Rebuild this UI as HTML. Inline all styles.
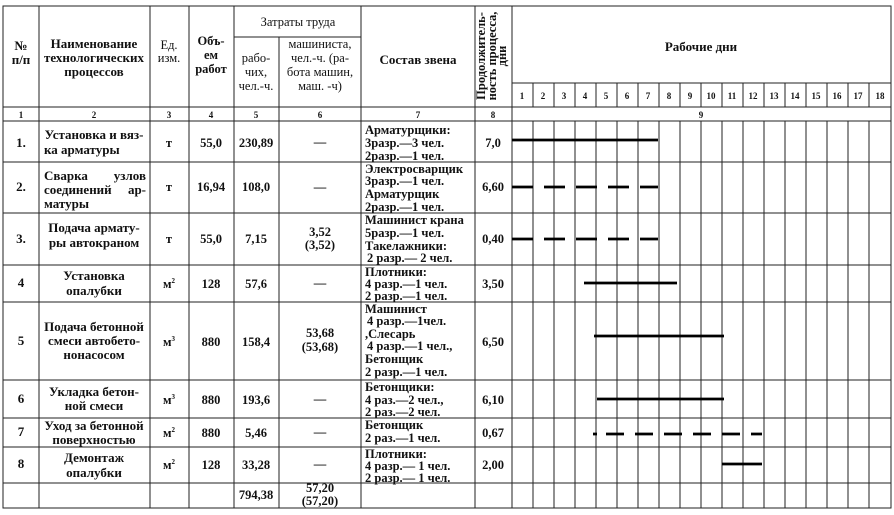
<!DOCTYPE html>
<html><head><meta charset="utf-8"><style>
html,body{margin:0;padding:0;background:#fff;}
svg{display:block;}
text{font-family:"Liberation Serif","DejaVu Serif",serif;font-weight:bold;font-size:12.5px;fill:#111;}
.s{font-size:9px;}
.c{text-anchor:middle;}
.n{font-size:13px;}
</style></head><body>
<svg width="894" height="515" viewBox="0 0 894 515" xmlns="http://www.w3.org/2000/svg">
<g stroke="#222" stroke-width="1" fill="none">
<rect x="3" y="6" width="888" height="502"/>
<line x1="3" y1="107" x2="891" y2="107"/>
<line x1="3" y1="121" x2="891" y2="121"/>
<line x1="3" y1="162" x2="891" y2="162"/>
<line x1="3" y1="213" x2="891" y2="213"/>
<line x1="3" y1="265" x2="891" y2="265"/>
<line x1="3" y1="302" x2="891" y2="302"/>
<line x1="3" y1="380" x2="891" y2="380"/>
<line x1="3" y1="418" x2="891" y2="418"/>
<line x1="3" y1="447" x2="891" y2="447"/>
<line x1="3" y1="483" x2="891" y2="483"/>
<line x1="39" y1="6" x2="39" y2="508"/>
<line x1="150" y1="6" x2="150" y2="508"/>
<line x1="189" y1="6" x2="189" y2="508"/>
<line x1="234" y1="6" x2="234" y2="508"/>
<line x1="279" y1="37" x2="279" y2="508"/>
<line x1="361" y1="6" x2="361" y2="508"/>
<line x1="475" y1="6" x2="475" y2="508"/>
<line x1="512" y1="6" x2="512" y2="508"/>
<line x1="234" y1="37" x2="361" y2="37"/>
<line x1="512" y1="83" x2="891" y2="83"/>
</g>
<g stroke="#222" stroke-width="1">
<line x1="533" y1="83" x2="533" y2="107"/><line x1="554" y1="83" x2="554" y2="107"/><line x1="575" y1="83" x2="575" y2="107"/><line x1="596" y1="83" x2="596" y2="107"/><line x1="617" y1="83" x2="617" y2="107"/><line x1="638" y1="83" x2="638" y2="107"/><line x1="659" y1="83" x2="659" y2="107"/><line x1="680" y1="83" x2="680" y2="107"/><line x1="701" y1="83" x2="701" y2="107"/><line x1="722" y1="83" x2="722" y2="107"/><line x1="743" y1="83" x2="743" y2="107"/><line x1="764" y1="83" x2="764" y2="107"/><line x1="785" y1="83" x2="785" y2="107"/><line x1="806" y1="83" x2="806" y2="107"/><line x1="827" y1="83" x2="827" y2="107"/><line x1="848" y1="83" x2="848" y2="107"/><line x1="869" y1="83" x2="869" y2="107"/>
<line x1="533" y1="121" x2="533" y2="508"/><line x1="554" y1="121" x2="554" y2="508"/><line x1="575" y1="121" x2="575" y2="508"/><line x1="596" y1="121" x2="596" y2="508"/><line x1="617" y1="121" x2="617" y2="508"/><line x1="638" y1="121" x2="638" y2="508"/><line x1="659" y1="121" x2="659" y2="508"/><line x1="680" y1="121" x2="680" y2="508"/><line x1="701" y1="121" x2="701" y2="508"/><line x1="722" y1="121" x2="722" y2="508"/><line x1="743" y1="121" x2="743" y2="508"/><line x1="764" y1="121" x2="764" y2="508"/><line x1="785" y1="121" x2="785" y2="508"/><line x1="806" y1="121" x2="806" y2="508"/><line x1="827" y1="121" x2="827" y2="508"/><line x1="848" y1="121" x2="848" y2="508"/><line x1="869" y1="121" x2="869" y2="508"/>
</g>
<g stroke="#000" stroke-width="2.8" fill="none">
<line x1="512" y1="140" x2="658" y2="140"/>
<line x1="512" y1="187" x2="658" y2="187" stroke-dasharray="21 11"/>
<line x1="512" y1="239" x2="658" y2="239" stroke-dasharray="21 11"/>
<line x1="584" y1="283" x2="677" y2="283"/>
<line x1="594" y1="336" x2="724" y2="336"/>
<line x1="597" y1="399" x2="724" y2="399"/>
<line x1="593" y1="434" x2="762" y2="434" stroke-dasharray="4 9 18 11 18 11 18 11 18 11 18 11 18 11 18 11"/>
<line x1="722" y1="464" x2="762" y2="464"/>
</g>
<text class="c n" x="21" y="50">№</text><text class="c n" x="21" y="64">п/п</text>
<text class="c n" x="94" y="48">Наименование</text><text class="c n" x="94" y="62">технологических</text><text class="c n" x="94" y="76">процессов</text>
<text class="c" x="169" y="49" style="font-weight:normal">Ед.</text><text class="c" x="169" y="62" style="font-weight:normal">изм.</text>
<text class="c" x="211" y="45">Объ-</text><text class="c" x="211" y="59">ем</text><text class="c" x="211" y="73">работ</text>
<text class="c" x="298" y="26" style="font-weight:normal">Затраты труда</text>
<text class="c" x="256" y="62" style="font-weight:normal">рабо-</text><text class="c" x="256" y="76" style="font-weight:normal">чих,</text><text class="c" x="256" y="90" style="font-weight:normal" font-size="11">чел.-ч.</text>
<text class="c" x="320" y="48" style="font-weight:normal">машиниста,</text><text class="c" x="320" y="62" style="font-weight:normal">чел.-ч. (ра-</text><text class="c" x="320" y="76" style="font-weight:normal">бота машин,</text><text class="c" x="320" y="90" style="font-weight:normal">маш. -ч)</text>
<text class="c n" x="418" y="64">Состав звена</text>
<g transform="translate(493,56) rotate(-90)"><text class="c" x="0" y="-8" font-size="12">Продолжитель-</text><text class="c" x="0" y="3" font-size="12">ность процесса,</text><text class="c" x="0" y="13" font-size="12">дни</text></g>
<text class="c n" x="701" y="51">Рабочие дни</text>
<g>
<text class="s c" x="522" y="99">1</text><text class="s c" x="543" y="99">2</text><text class="s c" x="564" y="99">3</text><text class="s c" x="585" y="99">4</text><text class="s c" x="606" y="99">5</text><text class="s c" x="627" y="99">6</text><text class="s c" x="648" y="99">7</text><text class="s c" x="669" y="99">8</text><text class="s c" x="690" y="99">9</text><text class="s c" x="711" y="99">10</text><text class="s c" x="732" y="99">11</text><text class="s c" x="753" y="99">12</text><text class="s c" x="774" y="99">13</text><text class="s c" x="795" y="99">14</text><text class="s c" x="816" y="99">15</text><text class="s c" x="837" y="99">16</text><text class="s c" x="858" y="99">17</text><text class="s c" x="880" y="99">18</text>
<text class="s c" x="21" y="118">1</text><text class="s c" x="94" y="118">2</text><text class="s c" x="169" y="118">3</text><text class="s c" x="211" y="118">4</text><text class="s c" x="256" y="118">5</text><text class="s c" x="320" y="118">6</text><text class="s c" x="418" y="118">7</text><text class="s c" x="493" y="118">8</text><text class="s c" x="701" y="118">9</text>
</g>
<text class="c n" x="21" y="147">1.</text><text class="c n" x="21" y="191">2.</text><text class="c n" x="21" y="243">3.</text><text class="c n" x="21" y="287">4</text><text class="c n" x="21" y="345">5</text><text class="c n" x="21" y="403">6</text><text class="c n" x="21" y="436">7</text><text class="c n" x="21" y="468">8</text>
<g class="n">
<text class="c n" x="94" y="139">Установка и вяз-</text><text class="n" x="44" y="154">ка арматуры</text>
<text class="n" x="44" y="180">Сварка</text><text class="n" x="146" y="180" text-anchor="end">узлов</text>
<text class="n" x="44" y="194">соединений</text><text class="n" x="146" y="194" text-anchor="end">ар-</text>
<text class="n" x="44" y="208">матуры</text>
<text class="c n" x="94" y="232">Подача армату-</text><text class="c n" x="94" y="247">ры автокраном</text>
<text class="c n" x="94" y="280">Установка</text><text class="c n" x="94" y="295">опалубки</text>
<text class="c n" x="94" y="331">Подача бетонной</text><text class="c n" x="94" y="345">смеси автобето-</text><text class="c n" x="94" y="359">нонасосом</text>
<text class="c n" x="94" y="396">Укладка бетон-</text><text class="c n" x="94" y="410">ной смеси</text>
<text class="c n" x="94" y="430">Уход за бетонной</text><text class="c n" x="94" y="444">поверхностью</text>
<text class="c n" x="94" y="462">Демонтаж</text><text class="c n" x="94" y="477">опалубки</text>
</g>
<text class="c" x="169" y="147">т</text><text class="c" x="169" y="191">т</text><text class="c" x="169" y="243">т</text>
<text class="c" x="169" y="288">м<tspan font-size="7" dy="-5">2</tspan></text><text class="c" x="169" y="346">м<tspan font-size="7" dy="-5">3</tspan></text><text class="c" x="169" y="404">м<tspan font-size="7" dy="-5">3</tspan></text><text class="c" x="169" y="437">м<tspan font-size="7" dy="-5">2</tspan></text><text class="c" x="169" y="469">м<tspan font-size="7" dy="-5">2</tspan></text>
<text class="c" x="211" y="147">55,0</text><text class="c" x="211" y="191">16,94</text><text class="c" x="211" y="243">55,0</text><text class="c" x="211" y="288">128</text><text class="c" x="211" y="346">880</text><text class="c" x="211" y="404">880</text><text class="c" x="211" y="437">880</text><text class="c" x="211" y="469">128</text>
<text class="c" x="256" y="147">230,89</text><text class="c" x="256" y="191">108,0</text><text class="c" x="256" y="243">7,15</text><text class="c" x="256" y="288">57,6</text><text class="c" x="256" y="346">158,4</text><text class="c" x="256" y="404">193,6</text><text class="c" x="256" y="437">5,46</text><text class="c" x="256" y="469">33,28</text><text class="c" x="256" y="499">794,38</text>
<text class="c" x="320" y="146">—</text><text class="c" x="320" y="191">—</text><text class="c" x="320" y="236">3,52</text><text class="c" x="320" y="249">(3,52)</text><text class="c" x="320" y="287">—</text><text class="c" x="320" y="337">53,68</text><text class="c" x="320" y="351">(53,68)</text><text class="c" x="320" y="403">—</text><text class="c" x="320" y="436">—</text><text class="c" x="320" y="468">—</text><text class="c" x="320" y="492">57,20</text><text class="c" x="320" y="505">(57,20)</text>
<g>
<text x="365" y="134">Арматурщики:</text><text x="365" y="147">3разр.—3 чел.</text><text x="365" y="160">2разр.—1 чел.</text>
<text x="365" y="173">Электросварщик</text><text x="365" y="185">3разр.—1 чел.</text><text x="365" y="198">Арматурщик</text><text x="365" y="211">2разр.—1 чел.</text>
<text x="365" y="224">Машинист крана</text><text x="365" y="237">5разр.—1 чел.</text><text x="365" y="250">Такелажники:</text><text x="367" y="262">2 разр.— 2 чел.</text>
<text x="365" y="276">Плотники:</text><text x="365" y="288">4 разр.—1 чел.</text><text x="365" y="300">2 разр.—1 чел.</text>
<text x="365" y="313">Машинист</text><text x="367" y="325">4 разр.—1чел.</text><text x="365" y="338">,Слесарь</text><text x="367" y="350">4 разр.—1 чел.,</text><text x="365" y="363">Бетонщик</text><text x="365" y="376">2 разр.—1 чел.</text>
<text x="365" y="391">Бетонщики:</text><text x="365" y="404">4 раз.—2 чел.,</text><text x="365" y="416">2 раз.—2 чел.</text>
<text x="365" y="429">Бетонщик</text><text x="365" y="442">2 раз.—1 чел.</text>
<text x="365" y="458">Плотники:</text><text x="365" y="470">4 разр.— 1 чел.</text><text x="365" y="482">2 разр.— 1 чел.</text>
</g>
<text class="c" x="493" y="147">7,0</text><text class="c" x="493" y="191">6,60</text><text class="c" x="493" y="243">0,40</text><text class="c" x="493" y="288">3,50</text><text class="c" x="493" y="346">6,50</text><text class="c" x="493" y="404">6,10</text><text class="c" x="493" y="437">0,67</text><text class="c" x="493" y="469">2,00</text>
</svg>
</body></html>
